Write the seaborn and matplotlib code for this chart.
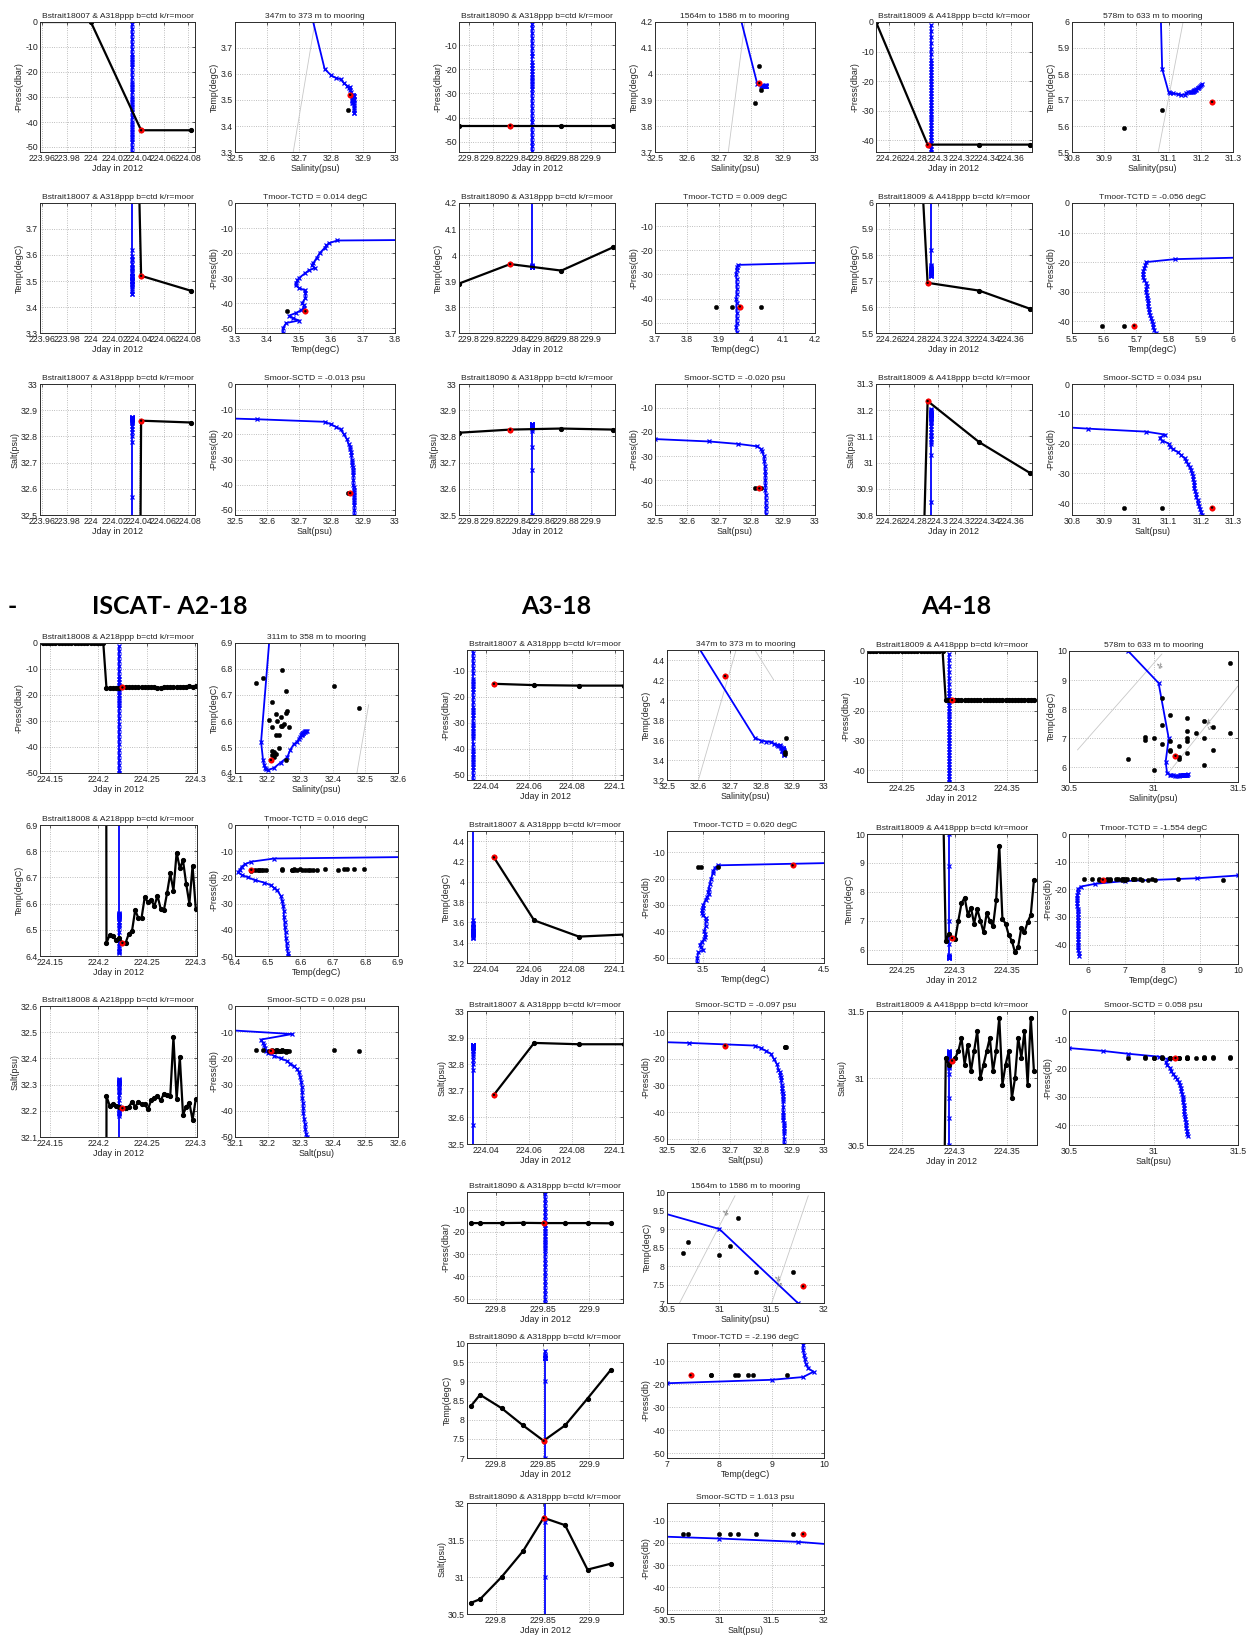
import numpy as np
import matplotlib
matplotlib.use("Agg")
import matplotlib.pyplot as plt
from matplotlib.ticker import FuncFormatter
import seaborn as sns

# ------------------------------------------------------------------
# CTD casts: pressure (-dbar), temperature (degC), salinity (psu)
# ------------------------------------------------------------------
ctd07_day = 224.0342
ctd07_p = [-1, -3, -5, -7, -9, -11, -13, -14, -15, -16, -17, -18, -20, -22, -24, -25, -26, -27, -28,
           -30, -31, -32, -33, -34, -35, -36, -38, -40, -41, -42, -43, -44, -45, -46, -47, -48, -50, -52]
ctd07_t = [7.5, 7.4, 7.2, 6.8, 6.0, 5.4, 4.9, 4.68, 3.62, 3.595, 3.585, 3.58, 3.565, 3.555, 3.545, 3.54, 3.55, 3.53, 3.52,
           3.50, 3.495, 3.49, 3.49, 3.50, 3.52, 3.52, 3.52, 3.51, 3.515, 3.515, 3.505, 3.49, 3.47, 3.48, 3.5, 3.46, 3.45, 3.45]
ctd07_s = [30.2, 30.3, 30.5, 30.9, 31.3, 31.8, 32.3, 32.57, 32.78, 32.8, 32.815, 32.83, 32.84, 32.85, 32.855, 32.86, 32.86, 32.862, 32.864,
           32.865, 32.866, 32.867, 32.868, 32.868, 32.869, 32.87, 32.87, 32.87, 32.871, 32.871, 32.871, 32.872, 32.872, 32.872, 32.872, 32.873, 32.873, 32.873]

ctd90_day = 229.852
ctd90_p = [-1, -3, -5, -7, -9, -11, -13, -14.5, -16.8, -18.0, -19.5, -20.6, -22, -23, -24, -25, -26, -27,
           -28, -30, -32, -34, -36, -38, -40, -42, -44, -46, -48, -50, -52, -54]
ctd90_t = [9.6, 9.6, 9.6, 9.62, 9.63, 9.65, 9.7, 9.8, 9.6, 9.0, 7.0, 6.2, 5.0, 4.45, 4.35, 4.25, 3.96, 3.955,
           3.955, 3.953, 3.955, 3.955, 3.956, 3.955, 3.954, 3.955, 3.955, 3.956, 3.955, 3.955, 3.954, 3.955]
ctd90_s = [30.1, 30.1, 30.1, 30.12, 30.15, 30.17, 30.2, 30.22, 30.25, 31.0, 31.75, 32.05, 32.3, 32.5, 32.67, 32.76, 32.82, 32.83,
           32.835, 32.84, 32.842, 32.843, 32.844, 32.845, 32.845, 32.845, 32.845, 32.846, 32.846, 32.846, 32.846, 32.846]

ctd09_day = 224.2945
ctd09_p = [-1, -3, -5, -7, -9, -11, -13, -14, -15, -16, -17, -18, -19, -20, -21, -22, -23, -24, -25, -26, -27, -28, -29,
           -30, -31, -32, -33, -34, -35, -36, -37, -38, -39, -40, -41, -42, -43, -44]
ctd09_t = [11.0, 10.9, 10.8, 10.7, 10.6, 10.5, 10.4, 10.3, 10.0, 8.9, 7.0, 6.2, 5.82, 5.73, 5.728, 5.725, 5.722, 5.72, 5.72,
           5.725, 5.73, 5.732, 5.73, 5.73, 5.732, 5.733, 5.735, 5.737, 5.735, 5.738, 5.74, 5.742, 5.745, 5.748, 5.75, 5.752, 5.756, 5.76]
ctd09_s = [28.5, 28.8, 29.1, 29.5, 29.9, 30.2, 30.5, 30.7, 30.85, 31.03, 31.09, 31.072, 31.08, 31.1, 31.105, 31.115, 31.13, 31.14,
           31.15, 31.155, 31.16, 31.165, 31.17, 31.172, 31.175, 31.176, 31.178, 31.18, 31.18, 31.182, 31.185, 31.186, 31.19, 31.19,
           31.195, 31.197, 31.2, 31.205]

ctd08_day = 224.221
ctd08_p = [-1, -3, -5, -7, -9, -10.7, -12.8, -14, -15, -16, -17, -18, -19, -20, -21, -22, -23, -24, -25, -27, -29, -31,
           -33, -35, -37, -39, -41, -43, -45, -47, -49, -50]
ctd08_t = [9.5, 9.4, 9.2, 9.0, 8.6, 8.0, 6.52, 6.45, 6.43, 6.42, 6.415, 6.41, 6.42, 6.44, 6.46, 6.49, 6.51, 6.52, 6.53, 6.54,
           6.545, 6.548, 6.55, 6.55, 6.552, 6.553, 6.555, 6.556, 6.558, 6.56, 6.562, 6.563]
ctd08_s = [31.4, 31.5, 31.6, 31.7, 32.05, 32.276, 32.18, 32.186, 32.19, 32.192, 32.195, 32.2, 32.22, 32.24, 32.26, 32.27,
           32.28, 32.29, 32.295, 32.3, 32.303, 32.305, 32.306, 32.307, 32.308, 32.309, 32.31, 32.312, 32.314, 32.316, 32.318, 32.32]

# ------------------------------------------------------------------
# Moored instruments: day, pressure, temperature, salinity
# ------------------------------------------------------------------
m07d_day = [223.917, 224.0, 224.0415, 224.083]
m07d_p = [0.0, 0.0, -43.3, -43.3]
m07d_t = [12.0, 12.0, 3.52, 3.462]
m07d_s = [0.0, 0.0, 32.86, 32.853]
m07d_red = 2

m90d_day = [229.792, 229.834, 229.876, 229.9186]
m90d_p = [-43.3, -43.3, -43.3, -43.3]
m90d_t = [3.89, 3.965, 3.94, 4.03]
m90d_s = [32.814, 32.826, 32.830, 32.826]
m90d_red = 1

m09d_day = [224.249, 224.2915, 224.334, 224.376]
m09d_p = [0.0, -41.5, -41.5, -41.5]
m09d_t = [9.4, 5.693, 5.663, 5.593]
m09d_s = [24.0, 31.235, 31.078, 30.96]
m09d_red = 1

# A2-18 instrument, sampled every 0.00329 day
m08_start, m08_step = 224.1428, 0.00329
m08_p = [0.0] * 20 + [-17.4, -17.3, -17.3, -17.2, -17.2, -17.1, -17.1, -17.0, -17.1, -17.0, -17.0, -16.9, -17.0, -17.0,
                      -17.1, -17.1, -17.2, -17.2, -17.1, -17.1, -17.0, -17.0, -16.9, -16.9, -16.8, -16.8, -16.7, -16.8, -16.7]
m08_t = [15.0] * 20 + [6.45, 6.48, 6.475, 6.46, 6.47, 6.45, 6.45, 6.485, 6.495, 6.575, 6.545, 6.545, 6.625, 6.605, 6.615,
                       6.59, 6.63, 6.58, 6.575, 6.64, 6.715, 6.65, 6.795, 6.735, 6.765, 6.675, 6.6, 6.745, 6.58]
m08_s = [0.0] * 20 + [32.255, 32.22, 32.225, 32.22, 32.215, 32.21, 32.21, 32.215, 32.235, 32.215, 32.235, 32.225, 32.225,
                      32.205, 32.24, 32.25, 32.255, 32.24, 32.265, 32.26, 32.255, 32.48, 32.245, 32.405, 32.185, 32.215,
                      32.23, 32.165, 32.245]
m08_red = 25

m07s_day = [224.0438, 224.0625, 224.0833, 224.1042]
m07s_p = [-15.0, -15.5, -15.7, -15.7]
m07s_t = [4.24, 3.62, 3.46, 3.48]
m07s_s = [32.685, 32.88, 32.875, 32.875]
m07s_red = 0

m90s_day = [229.773, 229.783, 229.806, 229.829, 229.851, 229.874, 229.898, 229.923]
m90s_p = [-16.0, -16.0, -16.0, -15.9, -16.0, -16.0, -16.0, -16.1]
m90s_t = [8.35, 8.65, 8.3, 7.85, 7.45, 7.85, 8.55, 9.3]
m90s_s = [30.65, 30.7, 31.0, 31.35, 31.8, 31.7, 31.1, 31.18]
m90s_red = 4

# A4-18 instrument, sampled every 0.00302 day
m09s_start, m09s_step = 224.2160, 0.00302
m09s_p = [0.0] * 25 + [-16.6, -16.5, -16.5, -16.5, -16.4, -16.5, -16.5, -16.4, -16.5, -16.5, -16.4, -16.5, -16.5, -16.4,
                       -16.5, -16.4, -16.4, -16.5, -16.4, -16.4, -16.3, -16.4, -16.4, -16.3, -16.4, -16.3, -16.3, -16.3, -16.3]
m09s_t = [12.0] * 25 + [6.3, 6.55, 6.4, 6.35, 7.0, 7.6, 7.8, 7.2, 7.45, 6.9, 7.4, 7.0, 6.6, 7.25, 7.0, 6.8, 7.7, 9.6,
                        7.05, 6.9, 6.5, 6.3, 5.9, 6.1, 6.75, 6.6, 6.95, 7.2, 8.4]
m09s_s = [29.0] * 25 + [31.15, 31.1, 31.13, 31.15, 31.2, 31.3, 31.1, 31.25, 31.05, 31.2, 31.35, 31.0, 31.1, 31.2, 31.3,
                        31.05, 31.2, 31.45, 30.95, 31.1, 31.2, 30.85, 31.0, 31.3, 31.15, 31.35, 30.95, 31.45, 31.05]
m09s_red = 27

# Isopycnal guide lines for T-S panels (salinity, temperature) and their labels
iso_g1 = ([32.682, 32.75], [3.3, 3.8])
iso_g2 = ([32.729, 32.781], [3.7, 4.2])
iso_g3 = ([31.068, 31.145], [5.5, 6.0])
iso_a2 = ([32.474, 32.51], [6.4, 6.663])
iso_a3a = [([32.6, 32.72], [3.2, 4.5]), ([32.78, 32.84], [4.5, 4.2])]
iso_a3b = [([30.62, 31.15], [7.0, 9.9]), ([31.5, 31.85], [7.0, 9.9])]
iso_a3b_lab = [(31.05, 9.45, "24"), (31.55, 7.6, "24.5")]
iso_a4 = [([30.55, 31.05], [6.6, 9.9]), ([31.1, 31.5], [5.9, 8.8])]
iso_a4_lab = [(31.03, 9.5, "24"), (31.32, 7.5, "24.5")]

# ------------------------------------------------------------------
# figure set-up
# ------------------------------------------------------------------
sns.set_theme(style="white")
plt.rcParams["font.family"] = ["Liberation Sans", "DejaVu Sans"]
plt.rcParams["axes.unicode_minus"] = False

W, H = 1246, 1635
fig = plt.figure(figsize=(W / 100, H / 100), dpi=100)
fig.patch.set_facecolor("white")

BLUE = "#0000ff"
TICK_FS = 6.3
TITLE_FS = 6.1
LAB_FS = 6.4


def new_axes(x0, x1, y0, y1):
    return fig.add_axes([x0 / W, 1 - y1 / H, (x1 - x0) / W, (y1 - y0) / H])


def gfmt(v, pos):
    return f"{round(v, 6):g}"


def style(ax, xlim, ylim, xticks, yticks, xlabel, ylabel, title):
    ax.set_xlim(xlim)
    ax.set_ylim(ylim)
    ax.set_xticks(xticks)
    ax.set_yticks(yticks)
    ax.xaxis.set_major_formatter(FuncFormatter(gfmt))
    ax.yaxis.set_major_formatter(FuncFormatter(gfmt))
    ax.grid(True, linestyle=(0, (1, 2)), color="#9a9a9a", linewidth=0.55)
    ax.set_axisbelow(True)
    for sp in ax.spines.values():
        sp.set_color("#2b2b2b")
        sp.set_linewidth(0.7)
    ax.tick_params(direction="in", length=2.2, width=0.5, labelsize=TICK_FS, pad=1.5,
                   top=True, right=True, colors="#222222")
    ax.set_title(title, fontsize=TITLE_FS, pad=3, color="#222222")
    ax.set_xlabel(xlabel, fontsize=LAB_FS, labelpad=0.5, color="#222222")
    ax.set_ylabel(ylabel, fontsize=LAB_FS, labelpad=1, color="#222222")


def blue_line(ax, x, y):
    sns.lineplot(x=x, y=y, ax=ax, estimator=None, sort=False, color=BLUE, linewidth=1.3,
                 marker="x", markersize=3.0, markeredgewidth=0.9, markeredgecolor=BLUE, legend=False)


def black_line(ax, x, y):
    sns.lineplot(x=x, y=y, ax=ax, estimator=None, sort=False, color="black", linewidth=1.6,
                 marker="o", markersize=3.0, markerfacecolor="black", markeredgecolor="black", legend=False)


def black_dots(ax, x, y):
    sns.scatterplot(x=x, y=y, ax=ax, color="black", s=10, edgecolor="black", linewidth=0.3,
                    legend=False, zorder=3)


def red_dot(ax, x, y):
    sns.scatterplot(x=[x], y=[y], ax=ax, color="red", s=16, edgecolor="red", linewidth=0.3,
                    legend=False, zorder=5)
    sns.scatterplot(x=[x], y=[y], ax=ax, color="black", s=3, edgecolor="none",
                    legend=False, zorder=6)


def iso_lines(ax, lines, labels=()):
    for xs, ys in lines:
        sns.lineplot(x=xs, y=ys, ax=ax, estimator=None, sort=False, color="#c8c8c8",
                     linewidth=0.6, legend=False)
    for x, y, txt in labels:
        ax.text(x, y, txt, fontsize=4.5, color="#555555", rotation=-70, ha="center", va="center")


def station(xl, xr, rows, ctd, moor, cfg):
    """Draw the three rows (P, T, S) of one CTD/mooring comparison."""
    cday, cp, ct, cs = ctd
    mday, mp, mt, ms, red = moor
    cast_x = np.full(len(cp), cday)
    lt = cfg["title"]

    # row 1: pressure vs time | T-S
    ax = new_axes(*xl, *rows[0])
    blue_line(ax, cast_x, cp)
    black_line(ax, mday, mp)
    red_dot(ax, mday[red], mp[red])
    style(ax, cfg["tlim"], cfg["plim"], cfg["tticks"], cfg["pticks"], "Jday in 2012", "-Press(dbar)", lt)

    ax = new_axes(*xr, *rows[0])
    iso_lines(ax, cfg["iso"], cfg.get("iso_lab", ()))
    blue_line(ax, cs, ct)
    black_dots(ax, ms, mt)
    red_dot(ax, ms[red], mt[red])
    style(ax, cfg["slim"], cfg["tslim_t"], cfg["sticks"], cfg["tticks_ts"], "Salinity(psu)", "Temp(degC)", cfg["ts_title"])

    # row 2: temperature vs time | pressure vs temperature
    ax = new_axes(*xl, *rows[1])
    blue_line(ax, cast_x, ct)
    black_line(ax, mday, mt)
    red_dot(ax, mday[red], mt[red])
    style(ax, cfg["tlim"], cfg["temp_lim"], cfg["tticks"], cfg["temp_ticks"], "Jday in 2012", "Temp(degC)", lt)

    ax = new_axes(*xr, *rows[1])
    blue_line(ax, ct, cp)
    black_dots(ax, mt, mp)
    red_dot(ax, mt[red], mp[red])
    style(ax, cfg["tp_tlim"], cfg["plim2"], cfg["tp_tticks"], cfg["pticks2"], "Temp(degC)", "-Press(db)", cfg["tp_title"])

    # row 3: salinity vs time | pressure vs salinity
    ax = new_axes(*xl, *rows[2])
    blue_line(ax, cast_x, cs)
    black_line(ax, mday, ms)
    red_dot(ax, mday[red], ms[red])
    style(ax, cfg["tlim"], cfg["salt_lim"], cfg["tticks"], cfg["salt_ticks"], "Jday in 2012", "Salt(psu)", lt)

    ax = new_axes(*xr, *rows[2])
    blue_line(ax, cs, cp)
    black_dots(ax, ms, mp)
    red_dot(ax, ms[red], mp[red])
    style(ax, cfg["sp_slim"], cfg["plim2"], cfg["sp_sticks"], cfg["pticks2"], "Salt(psu)", "-Press(db)", cfg["sp_title"])


def series_days(start, step, n):
    return [start + step * i for i in range(n)]


ctd07 = (ctd07_day, ctd07_p, ctd07_t, ctd07_s)
ctd90 = (ctd90_day, ctd90_p, ctd90_t, ctd90_s)
ctd09 = (ctd09_day, ctd09_p, ctd09_t, ctd09_s)
ctd08 = (ctd08_day, ctd08_p, ctd08_t, ctd08_s)

top_rows = [(22, 152), (203, 333), (384, 515)]

# ---------------- upper block ----------------
station((40, 195), (235, 395), top_rows, ctd07,
        (m07d_day, m07d_p, m07d_t, m07d_s, m07d_red),
        dict(title="Bstrait18007 & A318ppp b=ctd k/r=moor",
             tlim=(223.958, 224.086), tticks=[223.96, 223.98, 224.0, 224.02, 224.04, 224.06, 224.08],
             plim=(-52, 0), pticks=[-50, -40, -30, -20, -10, 0],
             plim2=(-52, 0), pticks2=[-50, -40, -30, -20, -10, 0],
             iso=[iso_g1], slim=(32.5, 33), sticks=[32.5, 32.6, 32.7, 32.8, 32.9, 33],
             tslim_t=(3.3, 3.8), tticks_ts=[3.3, 3.4, 3.5, 3.6, 3.7], ts_title="347m to 373 m to mooring",
             temp_lim=(3.3, 3.8), temp_ticks=[3.3, 3.4, 3.5, 3.6, 3.7],
             tp_tlim=(3.3, 3.8), tp_tticks=[3.3, 3.4, 3.5, 3.6, 3.7, 3.8], tp_title="Tmoor-TCTD = 0.014 degC",
             salt_lim=(32.5, 33), salt_ticks=[32.5, 32.6, 32.7, 32.8, 32.9, 33],
             sp_slim=(32.5, 33), sp_sticks=[32.5, 32.6, 32.7, 32.8, 32.9, 33], sp_title="Smoor-SCTD = -0.013 psu"))

station((459, 615), (655, 815), top_rows, ctd90,
        (m90d_day, m90d_p, m90d_t, m90d_s, m90d_red),
        dict(title="Bstrait18090 & A318ppp b=ctd k/r=moor",
             tlim=(229.792, 229.92), tticks=[229.8, 229.82, 229.84, 229.86, 229.88, 229.9],
             plim=(-54.3, -0.3), pticks=[-50, -40, -30, -20, -10],
             plim2=(-54.3, -0.3), pticks2=[-50, -40, -30, -20, -10],
             iso=[iso_g2], slim=(32.5, 33), sticks=[32.5, 32.6, 32.7, 32.8, 32.9, 33],
             tslim_t=(3.7, 4.2), tticks_ts=[3.7, 3.8, 3.9, 4.0, 4.1, 4.2], ts_title="1564m to 1586 m to mooring",
             temp_lim=(3.7, 4.2), temp_ticks=[3.7, 3.8, 3.9, 4.0, 4.1, 4.2],
             tp_tlim=(3.7, 4.2), tp_tticks=[3.7, 3.8, 3.9, 4.0, 4.1, 4.2], tp_title="Tmoor-TCTD = 0.009 degC",
             salt_lim=(32.5, 33), salt_ticks=[32.5, 32.6, 32.7, 32.8, 32.9, 33],
             sp_slim=(32.5, 33), sp_sticks=[32.5, 32.6, 32.7, 32.8, 32.9, 33], sp_title="Smoor-SCTD = -0.020 psu"))

station((876, 1032), (1072, 1233), top_rows, ctd09,
        (m09d_day, m09d_p, m09d_t, m09d_s, m09d_red),
        dict(title="Bstrait18009 & A418ppp b=ctd k/r=moor",
             tlim=(224.249, 224.3775), tticks=[224.26, 224.28, 224.3, 224.32, 224.34, 224.36],
             plim=(-44, 0), pticks=[-40, -30, -20, -10, 0],
             plim2=(-44, 0), pticks2=[-40, -30, -20, -10, 0],
             iso=[iso_g3], slim=(30.8, 31.3), sticks=[30.8, 30.9, 31.0, 31.1, 31.2, 31.3],
             tslim_t=(5.5, 6.0), tticks_ts=[5.5, 5.6, 5.7, 5.8, 5.9, 6.0], ts_title="578m to 633 m to mooring",
             temp_lim=(5.5, 6.0), temp_ticks=[5.5, 5.6, 5.7, 5.8, 5.9, 6.0],
             tp_tlim=(5.5, 6.0), tp_tticks=[5.5, 5.6, 5.7, 5.8, 5.9, 6.0], tp_title="Tmoor-TCTD = -0.056 degC",
             salt_lim=(30.8, 31.3), salt_ticks=[30.8, 30.9, 31.0, 31.1, 31.2, 31.3],
             sp_slim=(30.8, 31.3), sp_sticks=[30.8, 30.9, 31.0, 31.1, 31.2, 31.3], sp_title="Smoor-SCTD = 0.034 psu"))

# ---------------- headings ----------------
head = dict(fontsize=18, fontweight="bold", family=["Lato", "DejaVu Sans"], va="center", color="black")
fig.text(8 / W, 1 - 606 / H, "-", ha="left", **head)
fig.text(170 / W, 1 - 606 / H, "ISCAT- A2-18", ha="center", **head)
fig.text(556 / W, 1 - 606 / H, "A3-18", ha="center", **head)
fig.text(956 / W, 1 - 606 / H, "A4-18", ha="center", **head)

# ---------------- lower block ----------------
m08_day = series_days(m08_start, m08_step, len(m08_p))
station((40, 197), (235, 398), [(643, 773), (825, 956), (1006, 1137)], ctd08,
        (m08_day, m08_p, m08_t, m08_s, m08_red),
        dict(title="Bstrait18008 & A218ppp b=ctd k/r=moor",
             tlim=(224.14, 224.302), tticks=[224.15, 224.2, 224.25, 224.3],
             plim=(-50, 0), pticks=[-50, -40, -30, -20, -10, 0],
             plim2=(-50, 0), pticks2=[-50, -40, -30, -20, -10, 0],
             iso=[iso_a2], slim=(32.1, 32.6), sticks=[32.1, 32.2, 32.3, 32.4, 32.5, 32.6],
             tslim_t=(6.4, 6.9), tticks_ts=[6.4, 6.5, 6.6, 6.7, 6.8, 6.9], ts_title="311m to 358 m to mooring",
             temp_lim=(6.4, 6.9), temp_ticks=[6.4, 6.5, 6.6, 6.7, 6.8, 6.9],
             tp_tlim=(6.4, 6.9), tp_tticks=[6.4, 6.5, 6.6, 6.7, 6.8, 6.9], tp_title="Tmoor-TCTD = 0.016 degC",
             salt_lim=(32.1, 32.6), salt_ticks=[32.1, 32.2, 32.3, 32.4, 32.5, 32.6],
             sp_slim=(32.1, 32.6), sp_sticks=[32.1, 32.2, 32.3, 32.4, 32.5, 32.6], sp_title="Smoor-SCTD = 0.028 psu"))

station((467, 623), (667, 824), [(650, 780), (831, 963), (1011, 1144)], ctd07,
        (m07s_day, m07s_p, m07s_t, m07s_s, m07s_red),
        dict(title="Bstrait18007 & A318ppp b=ctd k/r=moor",
             tlim=(224.0313, 224.1038), tticks=[224.04, 224.06, 224.08, 224.1],
             plim=(-52, -2), pticks=[-50, -40, -30, -20, -10],
             plim2=(-52, -2), pticks2=[-50, -40, -30, -20, -10],
             iso=iso_a3a, slim=(32.5, 33), sticks=[32.5, 32.6, 32.7, 32.8, 32.9, 33],
             tslim_t=(3.2, 4.5), tticks_ts=[3.2, 3.4, 3.6, 3.8, 4.0, 4.2, 4.4], ts_title="347m to 373 m to mooring",
             temp_lim=(3.2, 4.5), temp_ticks=[3.2, 3.4, 3.6, 3.8, 4.0, 4.2, 4.4],
             tp_tlim=(3.2, 4.5), tp_tticks=[3.5, 4.0, 4.5], tp_title="Tmoor-TCTD = 0.620 degC",
             salt_lim=(32.5, 33), salt_ticks=[32.5, 32.6, 32.7, 32.8, 32.9, 33],
             sp_slim=(32.5, 33), sp_sticks=[32.5, 32.6, 32.7, 32.8, 32.9, 33], sp_title="Smoor-SCTD = -0.097 psu"))

station((467, 623), (667, 824), [(1192, 1303), (1343, 1458), (1503, 1614)], ctd90,
        (m90s_day, m90s_p, m90s_t, m90s_s, m90s_red),
        dict(title="Bstrait18090 & A318ppp b=ctd k/r=moor",
             tlim=(229.769, 229.936), tticks=[229.8, 229.85, 229.9],
             plim=(-52, -2), pticks=[-50, -40, -30, -20, -10],
             plim2=(-52, -2), pticks2=[-50, -40, -30, -20, -10],
             iso=iso_a3b, iso_lab=iso_a3b_lab, slim=(30.5, 32), sticks=[30.5, 31, 31.5, 32],
             tslim_t=(7, 10), tticks_ts=[7, 7.5, 8, 8.5, 9, 9.5, 10], ts_title="1564m to 1586 m to mooring",
             temp_lim=(7, 10), temp_ticks=[7, 7.5, 8, 8.5, 9, 9.5, 10],
             tp_tlim=(7, 10), tp_tticks=[7, 8, 9, 10], tp_title="Tmoor-TCTD = -2.196 degC",
             salt_lim=(30.5, 32), salt_ticks=[30.5, 31, 31.5, 32],
             sp_slim=(30.5, 32), sp_sticks=[30.5, 31, 31.5, 32], sp_title="Smoor-SCTD = 1.613 psu"))

m09s_day = series_days(m09s_start, m09s_step, len(m09s_p))
station((867, 1037), (1069, 1238), [(651, 782), (834, 964), (1011, 1145)], ctd09,
        (m09s_day, m09s_p, m09s_t, m09s_s, m09s_red),
        dict(title="Bstrait18009 & A418ppp b=ctd k/r=moor",
             tlim=(224.216, 224.379), tticks=[224.25, 224.3, 224.35],
             plim=(-44, 0), pticks=[-40, -30, -20, -10, 0],
             plim2=(-47, 0), pticks2=[-40, -30, -20, -10, 0],
             iso=iso_a4, iso_lab=iso_a4_lab, slim=(30.5, 31.5), sticks=[30.5, 31, 31.5],
             tslim_t=(5.5, 10), tticks_ts=[6, 7, 8, 9, 10], ts_title="578m to 633 m to mooring",
             temp_lim=(5.5, 10), temp_ticks=[6, 7, 8, 9, 10],
             tp_tlim=(5.5, 10), tp_tticks=[6, 7, 8, 9, 10], tp_title="Tmoor-TCTD = -1.554 degC",
             salt_lim=(30.5, 31.5), salt_ticks=[30.5, 31, 31.5],
             sp_slim=(30.5, 31.5), sp_sticks=[30.5, 31, 31.5], sp_title="Smoor-SCTD = 0.058 psu"))

fig.savefig("out.png", dpi=100, facecolor="white")
